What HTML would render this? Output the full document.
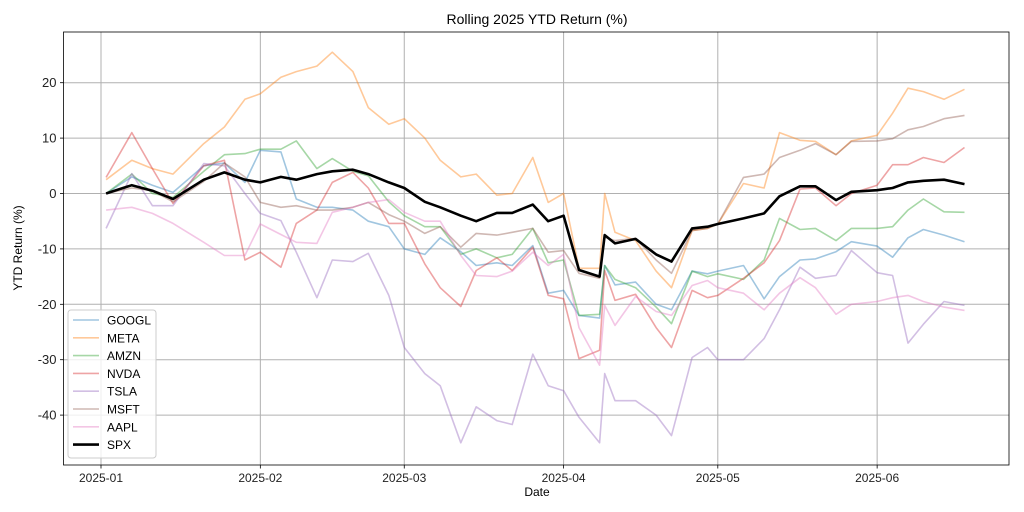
<!DOCTYPE html>
<html><head><meta charset="utf-8"><style>
html,body{margin:0;padding:0;background:#fff;width:1024px;height:512px;overflow:hidden}
svg{display:block;font-family:"Liberation Sans","DejaVu Sans",sans-serif}
</style></head><body>
<svg id="chart" width="1024" height="512" viewBox="0 0 1024 512" xmlns="http://www.w3.org/2000/svg"></svg>
<script>
const days=[1,6,10,14,20,24,28,31,35,38,42,45,49,52,56,59,63,66,70,73,77,80,84,87,90,93,97,98,100,104,108,111,115,118,120,125,129,132,136,139,143,146,151,154,157,160,164,168];
const googl=[0,3,1.5,0.2,5,5.5,2,7.8,7.5,-1,-2.5,-2.5,-3,-5,-6,-10,-11,-8,-10.5,-13,-12.5,-13,-9.4,-18,-17.5,-22,-22.5,-13,-16.5,-16,-20,-21,-14,-14.5,-14,-13,-19,-15,-12,-11.8,-10.5,-8.7,-9.5,-11.5,-8,-6.5,-7.5,-8.7];
const meta=[2.5,6,4.5,3.5,9,12,17,18,21,22,23,25.5,22,15.5,12.5,13.5,10,6,3,3.5,-0.3,0,6.5,-1.6,0,-13.5,-13.5,0,-7,-8.5,-14,-17,-6.7,-6.3,-5.5,1.8,1,11,9.6,9.4,7,9.5,10.5,14.5,19,18.4,17,18.8];
const amzn=[0,3.5,0,-0.7,4,7,7.2,8,8,9.5,4.5,6.3,4,3.2,-1.5,-4,-6,-6,-11,-10,-11.6,-11,-6.3,-12.5,-12,-22,-21.8,-13,-15.5,-17,-20.5,-23.5,-14,-15,-14.5,-15.5,-12,-4.5,-6.5,-6.3,-8.5,-6.3,-6.3,-6,-3,-1,-3.3,-3.4];
const nvda=[2.9,11,4.5,-1.8,5,6,-12,-10.6,-13.3,-5.4,-3,2,3.8,1,-5.4,-5.4,-12.7,-17,-20.4,-13.9,-11.6,-13.9,-9.7,-18.4,-19,-29.8,-28.3,-13.9,-19.3,-18.2,-24.2,-27.8,-17.5,-18.8,-18.4,-15.3,-12.5,-8.5,0.8,1,-2.2,0,1.5,5.2,5.2,6.5,5.6,8.3];
const tsla=[-6.3,3.6,-2.2,-2.2,5.4,5,0,-3.6,-4.9,-10.6,-18.8,-12,-12.3,-10.8,-18.4,-27.8,-32.5,-34.7,-45,-38.5,-41,-41.7,-29,-34.7,-35.6,-40.4,-45,-32.5,-37.4,-37.4,-40,-43.7,-29.6,-27.8,-30,-30,-26.2,-21,-13.3,-15.3,-14.8,-10.3,-14.3,-14.8,-27,-23.6,-19.5,-20.2];
const msft=[0,1,0.5,-1.5,2.2,5.5,3,-1.6,-2.5,-2.2,-3,-3,-2.5,-1.6,-3.8,-5,-7.2,-6,-9.7,-7.2,-7.5,-7,-6.3,-10.6,-10.3,-14.4,-15.3,-7.9,-8.5,-8.1,-12,-14.4,-6.7,-6.3,-5.5,2.9,3.5,6.5,7.8,9,7,9.4,9.5,9.9,11.5,12.1,13.5,14.1];
const aapl=[-3,-2.5,-3.6,-5.4,-8.8,-11.2,-11.2,-5.5,-7.4,-8.8,-9,-3.4,-2.5,-1.6,-1.1,-3.4,-5,-5,-11.2,-14.8,-15,-14,-10.6,-13,-11,-24.2,-31,-20.2,-23.8,-18.6,-21.3,-22,-16.6,-15.7,-17,-18,-21,-18,-15.2,-17,-21.8,-20,-19.5,-18.8,-18.4,-19.5,-20.5,-21.1];
const spx=[0,1.5,0.5,-1,2.5,3.8,2.5,2,3,2.5,3.5,4,4.3,3.5,2,1,-1.5,-2.5,-4,-5,-3.5,-3.5,-2,-5,-4,-13.8,-15,-7.5,-9,-8.2,-11,-12.3,-6.3,-6,-5.5,-4.5,-3.6,-0.5,1.3,1.3,-1.2,0.3,0.6,1,2,2.3,2.5,1.7];
const yTicks=[-40,-30,-20,-10,0,10,20];
const xTickDays=[0,31,59,90,120,151];
const xTickLabels=["2025-01","2025-02","2025-03","2025-04","2025-05","2025-06"];
const seriesNames=["GOOGL","META","AMZN","NVDA","TSLA","MSFT","AAPL"];
const seriesData=[googl,meta,amzn,nvda,tsla,msft,aapl];
const colors=["#1f77b4","#ff7f0e","#2ca02c","#d62728","#9467bd","#8c564b","#e377c2"];

const L=63.5,R=1009,T=32,B=465;
const xs=d=>101+d*5.14;
const ys=v=>193.5-v*5.54;
const NS="http://www.w3.org/2000/svg";
const svg=document.getElementById('chart');
function mk(tag,attrs,parent){const e=document.createElementNS(NS,tag);for(const k in attrs)e.setAttribute(k,attrs[k]);(parent||svg).appendChild(e);return e;}

const grid=mk('g',{});


yTicks.forEach(v=>{
  const y=ys(v);
  const l=mk('line',{x1:L,x2:R,y1:y,y2:y,stroke:'#b0b0b0','stroke-width':1},grid);
  
  
  const t=mk('line',{x1:L-3.5,x2:L,y1:y,y2:y,stroke:'#000','stroke-width':0.8});
  
  
  const tx=mk('text',{x:L-7,y:y+4.5,'text-anchor':'end','font-size':13,fill:'#222'});
  tx.textContent=String(v);
  
  
});
xTickDays.forEach((d,i)=>{
  const x=xs(d);
  const l=mk('line',{x1:x,x2:x,y1:T,y2:B,stroke:'#b0b0b0','stroke-width':1},grid);
  
  
  const t=mk('line',{x1:x,x2:x,y1:B,y2:B+3.5,stroke:'#000','stroke-width':0.8});
  
  
  const tx=mk('text',{x:x,y:B+17,'text-anchor':'middle','font-size':12,fill:'#222'});
  tx.textContent=xTickLabels[i];
  
  
});

function pts(arr){return arr.map((v,i)=>xs(days[i]).toFixed(1)+','+ys(v).toFixed(1)).join(' ');}
seriesData.forEach((arr,i)=>{
  const p=mk('polyline',{points:pts(arr),fill:'none',stroke:colors[i],'stroke-width':1.6,'stroke-opacity':0.42,'stroke-linejoin':'round'});
  
  
});
const sp=mk('polyline',{points:pts(spx),fill:'none',stroke:'#000','stroke-width':2.6,'stroke-linejoin':'round'});



const frame=mk('rect',{x:L,y:T,width:R-L,height:B-T,fill:'none',stroke:'#000','stroke-width':0.8});



const title=mk('text',{x:537,y:24,'text-anchor':'middle','font-size':14,fill:'#000'});
title.textContent='Rolling 2025 YTD Return (%)';


const xl=mk('text',{x:537,y:496,'text-anchor':'middle','font-size':12,fill:'#000'});
xl.textContent='Date';


const yl=mk('text',{x:0,y:0,'text-anchor':'middle','font-size':12,fill:'#000',transform:'translate(22,248) rotate(-90)'});
yl.textContent='YTD Return (%)';



const lg=mk('g',{});


mk('rect',{x:68,y:310,width:88,height:148,rx:3,fill:'#fff','fill-opacity':0.8,stroke:'#ccc','stroke-width':1},lg);
const allNames=seriesNames.concat(['SPX']);
allNames.forEach((n,i)=>{
  const y=320+i*17.8;
  const isSpx=n==='SPX';
  const e=mk('g',{},lg);
  
  
  mk('line',{x1:73,x2:99,y1:y,y2:y,stroke:isSpx?'#000':colors[i],'stroke-width':isSpx?2.6:1.6,'stroke-opacity':isSpx?1:0.42},e);
  const t=mk('text',{x:107,y:y+4.5,'font-size':12,fill:'#000'},e);
  t.textContent=n;
});
</script>
</body></html>
